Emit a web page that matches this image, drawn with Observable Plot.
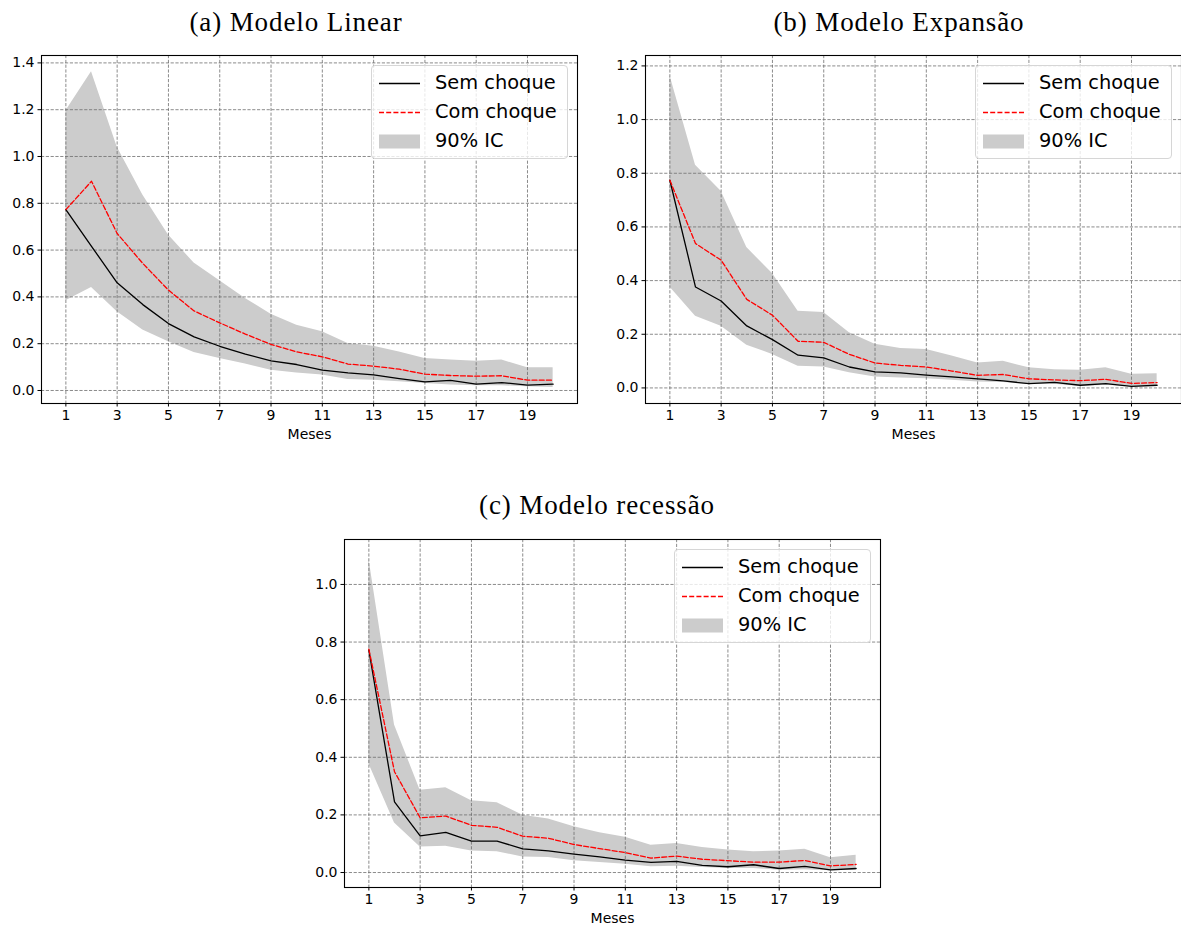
<!DOCTYPE html>
<html>
<head>
<meta charset="utf-8">
<script src="https://cdn.jsdelivr.net/npm/d3@7"></script>
<script src="https://cdn.jsdelivr.net/npm/@observablehq/plot@0.6"></script>
<style>
  html, body { margin: 0; padding: 0; background: #fff; }
  body { width: 1181px; height: 925px; overflow: hidden; position: relative; }
  .title { position: absolute; width: 500px; text-align: center; font-family: "Liberation Serif", "DejaVu Serif", serif; font-size: 27px; letter-spacing: 0.9px; line-height: 27px; color: #000; white-space: nowrap; }
  .legend { position: absolute; box-sizing: border-box; border: 1px solid #d6d6d6; border-radius: 4px; background: rgba(255,255,255,0.8); font-family: "DejaVu Sans", sans-serif; font-size: 19.4px; color: #000; }
  .legend .row { position: absolute; left: 0; height: 24px; line-height: 24px; white-space: nowrap; }
  .legend .row span { position: absolute; left: 63px; top: 0; }
  .legend .row svg { position: absolute; left: 7px; top: 0; }
  svg.panel { position: absolute; }
</style>
</head>
<body>
<script>
// ---------- data ----------
const meses = [1,2,3,4,5,6,7,8,9,10,11,12,13,14,15,16,17,18,19,20];
const xTicks = [1,3,5,7,9,11,13,15,17,19];

const titles = ["(a) Modelo Linear", "(b) Modelo Expansão", "(c) Modelo recessão"];
const legendLabels = ["Sem choque", "Com choque", "90% IC"];
const xLabel = "Meses";

// (a) Modelo Linear
const linearSem = [0.773,0.616,0.460,0.367,0.286,0.229,0.189,0.155,0.127,0.111,0.087,0.075,0.067,0.051,0.037,0.043,0.027,0.034,0.023,0.027];
const linearCom = [0.773,0.894,0.671,0.543,0.429,0.340,0.289,0.241,0.197,0.165,0.144,0.113,0.104,0.091,0.070,0.064,0.061,0.063,0.044,0.044];
const linearHi  = [1.194,1.362,1.041,0.835,0.664,0.545,0.469,0.393,0.326,0.279,0.251,0.201,0.189,0.165,0.137,0.130,0.125,0.130,0.097,0.097];
const linearLo  = [0.383,0.440,0.336,0.258,0.208,0.162,0.137,0.113,0.087,0.075,0.066,0.047,0.044,0.037,0.030,0.023,0.020,0.020,0.016,0.013];
const linearYTicks = [0,0.2,0.4,0.6,0.8,1.0,1.2,1.4];

// (b) Modelo Expansão
const expSem = [0.774,0.376,0.324,0.231,0.180,0.122,0.112,0.078,0.060,0.056,0.048,0.041,0.034,0.026,0.016,0.021,0.010,0.016,0.006,0.010];
const expCom = [0.774,0.538,0.476,0.330,0.271,0.174,0.170,0.125,0.093,0.084,0.078,0.063,0.047,0.050,0.034,0.030,0.027,0.032,0.017,0.020];
const expHi  = [1.165,0.830,0.733,0.523,0.426,0.286,0.281,0.206,0.163,0.147,0.143,0.119,0.093,0.099,0.075,0.068,0.066,0.075,0.051,0.053];
const expLo  = [0.376,0.267,0.230,0.159,0.125,0.081,0.078,0.057,0.041,0.037,0.034,0.029,0.022,0.020,0.014,0.014,0.005,0.010,0.004,0.006];
const expYTicks = [0,0.2,0.4,0.6,0.8,1.0,1.2];

// (c) Modelo recessão
const recSem = [0.772,0.245,0.127,0.139,0.109,0.109,0.082,0.075,0.064,0.054,0.043,0.035,0.039,0.025,0.020,0.027,0.014,0.021,0.009,0.014];
const recCom = [0.775,0.350,0.190,0.196,0.164,0.157,0.126,0.119,0.097,0.083,0.069,0.050,0.057,0.046,0.041,0.036,0.036,0.042,0.023,0.028];
const recHi  = [1.090,0.512,0.286,0.294,0.249,0.242,0.199,0.186,0.159,0.138,0.122,0.095,0.101,0.087,0.078,0.072,0.075,0.081,0.051,0.060];
const recLo  = [0.378,0.172,0.089,0.091,0.075,0.072,0.054,0.052,0.041,0.035,0.029,0.020,0.022,0.017,0.014,0.014,0.008,0.010,0.006,0.008];
const recYTicks = [0,0.2,0.4,0.6,0.8,1.0];

// ---------- drawing ----------
const FRAME_W = 536, FRAME_H = 348;

function panel(cfg) {
  const data = meses.map((m, i) => ({m, sem: cfg.sem[i], com: cfg.com[i], lo: cfg.lo[i], hi: cfg.hi[i]}));
  const W = cfg.ml + FRAME_W + cfg.mr, H = cfg.mt + FRAME_H + cfg.mb;
  const gridStyle = {stroke: "#6e6e6e", strokeOpacity: 1, strokeWidth: 0.8, strokeDasharray: "3.2,1.6"};
  const svg = Plot.plot({
    width: W, height: H,
    marginLeft: cfg.ml, marginRight: cfg.mr, marginTop: cfg.mt, marginBottom: cfg.mb,
    style: {fontFamily: "DejaVu Sans, sans-serif", fontSize: "14px", color: "#000", background: "transparent", overflow: "visible"},
    x: {domain: [0.05, 20.95]},
    y: {domain: cfg.yDomain},
    marks: [
      Plot.areaY(data, {x: "m", y1: "lo", y2: "hi", fill: "#cccccc"}),
      Plot.gridX(xTicks, gridStyle),
      Plot.gridY(cfg.yTicks, gridStyle),
      Plot.lineY(data, {x: "m", y: "sem", stroke: "#000", strokeWidth: 1.3}),
      Plot.lineY(data, {x: "m", y: "com", stroke: "#ff0000", strokeWidth: 1.3, strokeDasharray: "5,2.2"}),
      Plot.frame({stroke: "#000", strokeWidth: 1.1}),
      Plot.axisX(xTicks, {tickSize: 3.5, tickPadding: 3.5, tickFormat: d => String(d), fontSize: 14,
        label: xLabel, labelAnchor: "center", labelArrow: "none", labelOffset: 35}),
      Plot.axisY(cfg.yTicks, {tickSize: 3.5, tickPadding: 3.5, tickFormat: d3.format(".1f"), fontSize: 14, label: null})
    ]
  });
  svg.classList.add("panel");
  svg.style.left = cfg.left + "px";
  svg.style.top = cfg.top + "px";
  document.body.appendChild(svg);

  // legend (upper right inside the frame)
  const frameRight = cfg.left + cfg.ml + FRAME_W;
  const frameTop = cfg.top + cfg.mt;
  const lg = document.createElement("div");
  lg.className = "legend";
  const lw = 197, lh = 94;
  lg.style.width = lw + "px";
  lg.style.height = lh + "px";
  lg.style.left = (frameRight - 9 - lw) + "px";
  lg.style.top = (frameTop + 10) + "px";
  const rowsY = [4.5, 34, 62.5];
  legendLabels.forEach((lab, i) => {
    const row = document.createElement("div");
    row.className = "row";
    row.style.top = rowsY[i] + "px";
    let handle;
    if (i === 0) handle = '<svg width="42" height="24"><line x1="0" x2="41" y1="12.5" y2="12.5" stroke="#000" stroke-width="1.3"/></svg>';
    else if (i === 1) handle = '<svg width="42" height="24"><line x1="0" x2="41" y1="12.5" y2="12.5" stroke="#ff0000" stroke-width="1.3" stroke-dasharray="5,2.2"/></svg>';
    else handle = '<svg width="42" height="24"><rect x="0" y="5.5" width="41" height="14" fill="#cccccc"/></svg>';
    row.innerHTML = handle + '<span>' + lab + '</span>';
    lg.appendChild(row);
  });
  document.body.appendChild(lg);

  // title
  const t = document.createElement("div");
  t.className = "title";
  t.textContent = cfg.title;
  t.style.left = (cfg.titleX - 250) + "px";
  t.style.top = cfg.titleTop + "px";
  document.body.appendChild(t);
}

panel({title: titles[0], sem: linearSem, com: linearCom, lo: linearLo, hi: linearHi,
  yDomain: [-0.0556, 1.4316], yTicks: linearYTicks,
  left: 0, top: 0, ml: 41, mr: 13, mt: 55, mb: 47, titleX: 296, titleTop: 9});

panel({title: titles[1], sem: expSem, com: expCom, lo: expLo, hi: expHi,
  yDomain: [-0.058, 1.2388], yTicks: expYTicks,
  left: 600, top: 0, ml: 45, mr: 13, mt: 55, mb: 47, titleX: 899, titleTop: 9});

panel({title: titles[2], sem: recSem, com: recCom, lo: recLo, hi: recHi,
  yDomain: [-0.052, 1.156], yTicks: recYTicks,
  left: 300, top: 485, ml: 44, mr: 13, mt: 54, mb: 47, titleX: 597, titleTop: 492});
</script>
</body>
</html>
